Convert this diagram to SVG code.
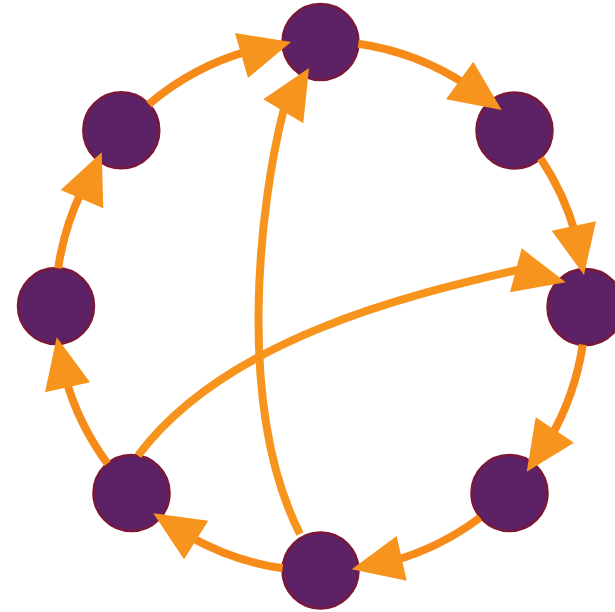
<svg xmlns="http://www.w3.org/2000/svg" width="615" height="612" viewBox="0 0 615 612">
<style>
.node{fill:#5d2266;stroke:#7a1839;stroke-width:2.5}
.arc{fill:none;stroke:#f68b1a;stroke-width:8}
.chord{fill:none;stroke:#f7941e;stroke-width:8}
.head{fill:#f7941e}
</style>
<rect width="615" height="612" fill="#ffffff"/>
<g id="nodes">
<g id="n-top"><circle class="node" cx="320.5" cy="42" r="38"/></g>
<g id="n-tr"><circle class="node" cx="514.5" cy="130.5" r="38"/></g>
<g id="n-r"><circle class="node" cx="585.5" cy="307" r="38"/></g>
<g id="n-br"><circle class="node" cx="509.5" cy="493" r="38"/></g>
<g id="n-b"><circle class="node" cx="320.5" cy="570.5" r="38"/></g>
<g id="n-bl"><circle class="node" cx="131.5" cy="493" r="38"/></g>
<g id="n-l"><circle class="node" cx="56" cy="306" r="38"/></g>
<g id="n-tl"><circle class="node" cx="121.3" cy="130.3" r="38"/></g>
</g>
<g id="connectors">
<g id="e-tl-top"><path class="arc" d="M148.8,104.2 A265,265 0 0 1 249.7,50.6"/><polygon class="head" points="291,42 235,33 248,78"/></g>
<g id="e-top-tr"><path class="arc" d="M358.3,43.7 A265,265 0 0 1 467.5,85.5"/><polygon class="head" points="501.7,110 473.3,61.7 446,99.3"/></g>
<g id="e-tr-r"><path class="arc" d="M540.5,158.2 A265,265 0 0 1 575.9,235.2"/><polygon class="head" points="584,275 551.7,230.7 596,221.3"/></g>
<g id="e-r-br"><path class="arc" d="M582.7,344.7 A265,265 0 0 1 550.2,438.1"/><polygon class="head" points="526.7,471.7 535.7,417.3 574,442.7"/></g>
<g id="e-br-b"><path class="arc" d="M480,517.6 A265,265 0 0 1 392.7,561"/><polygon class="head" points="351.7,569.3 396.7,536 406.7,580.7"/></g>
<g id="e-b-bl"><path class="arc" d="M282.7,568.3 A265,265 0 0 1 188,535.5"/><polygon class="head" points="153.3,513.3 208.3,520.7 184,559.3"/></g>
<g id="e-bl-l"><path class="arc" d="M107.5,463.6 A265,265 0 0 1 65.5,378.2"/><polygon class="head" points="56.7,337.3 45,392.3 90,382.3"/></g>
<g id="e-l-tl"><path class="arc" d="M58.2,268.2 A265,265 0 0 1 82.5,189.4"/><polygon class="head" points="101.7,152.3 60.7,190 103.3,208.3"/></g>
<g id="e-b-top"><path class="chord" d="M300,534 C235.7,406.8 259.2,204.7 284,108.5"/><polygon class="head" points="309,68 263.3,99.3 303.3,123.3"/></g>
<g id="e-bl-r"><path class="chord" d="M138,455.6 C228,335.6 418.4,293 518,269.8"/><polygon class="head" points="565.7,282.3 521.7,248.3 510,292.3"/></g>
</g>
</svg>
